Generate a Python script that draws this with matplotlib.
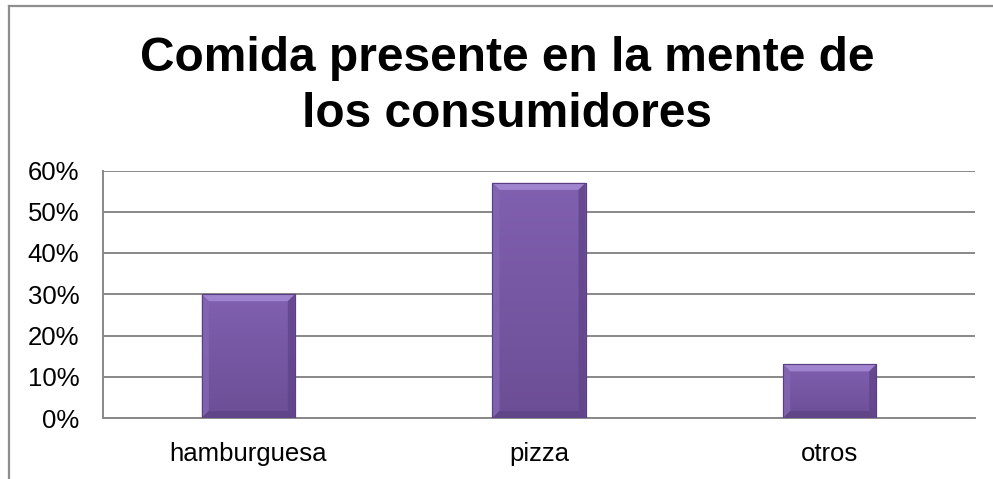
import matplotlib
matplotlib.use("Agg")
import matplotlib.pyplot as plt
import numpy as np
from matplotlib.patches import Polygon
from matplotlib.lines import Line2D
from matplotlib.ticker import FuncFormatter

categories = ["hamburguesa", "pizza", "otros"]
values = [30, 57, 13]  # percent
y_ticks = [0, 10, 20, 30, 40, 50, 60]
title = "Comida presente en la mente de\nlos consumidores"

plt.rcParams["font.family"] = ["Liberation Sans", "DejaVu Sans"]

W, H = 993, 479
fig = plt.figure(figsize=(W / 100, H / 100), dpi=100)
fig.patch.set_facecolor("white")

# outer chart frame (top and left edges visible)
frame_col = "#8e8e8e"
fig.add_artist(Line2D([9 / W, 1.0], [1 - 6 / H, 1 - 6 / H], color=frame_col, lw=1.6,
                      transform=fig.transFigure))
fig.add_artist(Line2D([9 / W, 9 / W], [0, 1 - 6 / H], color=frame_col, lw=1.6,
                      transform=fig.transFigure))

left, right, bottom, top = 103 / W, 975 / W, 1 - 418 / H, 1 - 170.5 / H
ax = fig.add_axes([left, bottom, right - left, top - bottom])

x = np.arange(len(categories))
bar_w = 0.32
ax.set_xlim(-0.5, len(categories) - 0.5)
ax.set_ylim(0, 60)

grid_col = "#888888"
ax.set_yticks(y_ticks)
ax.yaxis.grid(True, color=grid_col, lw=1.4)
ax.set_axisbelow(True)
for s in ["top", "right"]:
    ax.spines[s].set_visible(False)
ax.spines["left"].set_color(grid_col)
ax.spines["bottom"].set_color(grid_col)
ax.spines["left"].set_linewidth(1.4)
ax.spines["bottom"].set_linewidth(1.4)
ax.tick_params(axis="both", length=0, labelsize=18.5, labelcolor="black")
ax.tick_params(axis="y", pad=17)
ax.tick_params(axis="x", pad=17.5)
ax.yaxis.set_major_formatter(FuncFormatter(lambda v, p: f"{int(v)}%"))
ax.set_xticks(x)
ax.set_xticklabels(categories)

bars = ax.bar(x, values, width=bar_w, color="#7a5aa6", edgecolor="#5a4083",
              linewidth=0.8, zorder=3)

# bevelled shading on each bar, bevel size given in pixels
fig.canvas.draw()
inv = ax.transData.inverted()
def px_to_data(px, py):
    p0 = inv.transform((0, 0))
    p1 = inv.transform((px, py))
    return p1[0] - p0[0], p1[1] - p0[1]

bx, by = px_to_data(7, 7)
for b in bars:
    x0, y0 = b.get_x(), b.get_y()
    w, h = b.get_width(), b.get_height()
    x1, y1 = x0 + w, y0 + h
    # vertical gradient body
    grad = np.linspace(0, 1, 256).reshape(-1, 1)
    c_top = np.array([0x80, 0x60, 0xb0]) / 255
    c_bot = np.array([0x6c, 0x4e, 0x96]) / 255
    img = c_bot + (c_top - c_bot) * grad
    img = img.reshape(256, 1, 3)
    im = ax.imshow(img, extent=(x0, x1, y0, y1), origin="lower", aspect="auto",
                   zorder=3.1, interpolation="bilinear")
    im.set_clip_path(b)
    # bevels
    top_p = Polygon([(x0, y1), (x1, y1), (x1 - bx, y1 - by), (x0 + bx, y1 - by)],
                    closed=True, facecolor="#a084cf", edgecolor="none", zorder=3.2)
    left_p = Polygon([(x0, y0), (x0, y1), (x0 + bx, y1 - by), (x0 + bx, y0 + by)],
                     closed=True, facecolor="#8366b2", edgecolor="none", zorder=3.2,
                     alpha=0.85)
    right_p = Polygon([(x1, y0), (x1, y1), (x1 - bx, y1 - by), (x1 - bx, y0 + by)],
                      closed=True, facecolor="#62468c", edgecolor="none", zorder=3.2,
                      alpha=0.85)
    bot_p = Polygon([(x0, y0), (x1, y0), (x1 - bx, y0 + by), (x0 + bx, y0 + by)],
                    closed=True, facecolor="#5e4386", edgecolor="none", zorder=3.2,
                    alpha=0.8)
    for p in (top_p, left_p, right_p, bot_p):
        ax.add_patch(p)
    ax.add_patch(Polygon([(x0, y0), (x0, y1), (x1, y1), (x1, y0)], closed=True,
                         facecolor="none", edgecolor="#5a4083", lw=0.8, zorder=3.3))

fig.text(507 / W, 1 - 86.5 / H, title, ha="center", va="center", fontsize=34.5,
         fontweight="bold", linespacing=1.29)

fig.savefig("out.png", dpi=100)
